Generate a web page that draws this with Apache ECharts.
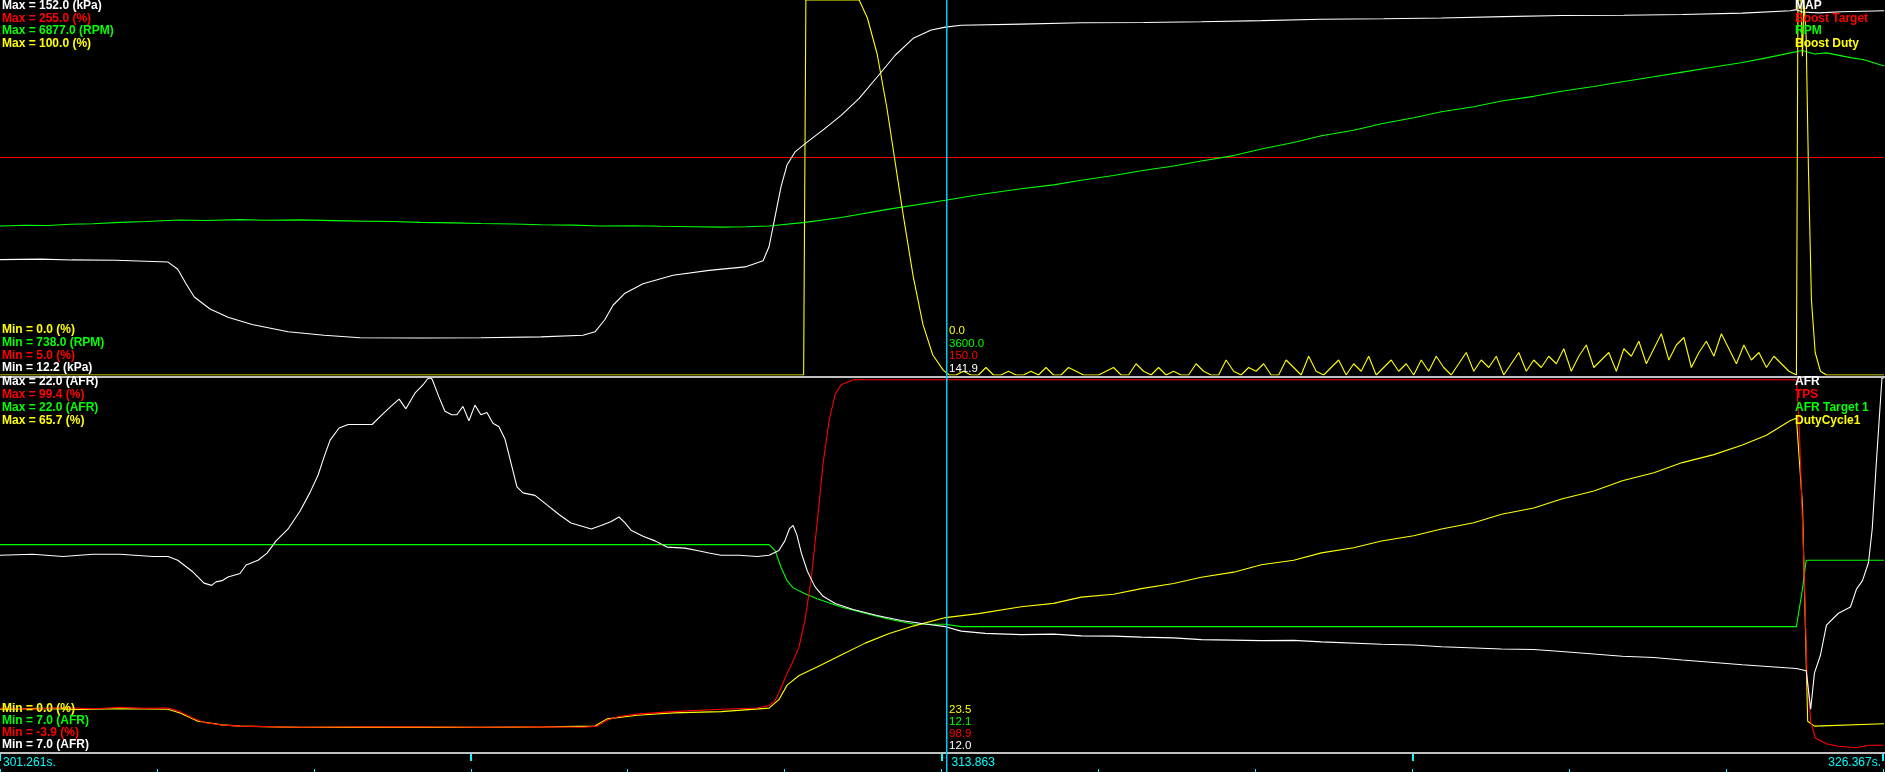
<!DOCTYPE html>
<html><head><meta charset="utf-8">
<script src="https://cdn.jsdelivr.net/npm/echarts@6/dist/echarts.min.js"></script>
<style>html,body{margin:0;padding:0;background:#000;}#c{width:1885px;height:772px;}</style>
</head><body><div id="c"></div>
<script>
// ---- time range & cursor ----
const T_MIN = 301.261, T_MAX = 326.367, CURSOR_T = 313.863;
const TIME_LABELS = ['301.261s.', '313.863', '326.367s.'];

// ---- top panel: axis ranges ----
const MAP_RANGE = [12.2, 152.0], BT_RANGE = [5.0, 255.0], RPM_RANGE = [738.0, 6877.0], BD_RANGE = [0.0, 100.0];
// ---- bottom panel: axis ranges ----
const AFR_RANGE = [7.0, 22.0], TPS_RANGE = [-3.9, 99.4], AFRT_RANGE = [7.0, 22.0], DC_RANGE = [0.0, 65.7];

const TOP_NAMES = ['MAP', 'Boost Target', 'RPM', 'Boost Duty'];
const TOP_MAX_TXT = ['Max = 152.0 (kPa)', 'Max = 255.0 (%)', 'Max = 6877.0 (RPM)', 'Max = 100.0 (%)'];
const TOP_MIN_TXT = ['Min = 0.0 (%)', 'Min = 738.0 (RPM)', 'Min = 5.0 (%)', 'Min = 12.2 (kPa)'];
const TOP_CUR_TXT = ['0.0', '3600.0', '150.0', '141.9'];
const BOT_NAMES = ['AFR', 'TPS', 'AFR Target 1', 'DutyCycle1'];
const BOT_MAX_TXT = ['Max = 22.0 (AFR)', 'Max = 99.4 (%)', 'Max = 22.0 (AFR)', 'Max = 65.7 (%)'];
const BOT_MIN_TXT = ['Min = 0.0 (%)', 'Min = 7.0 (AFR)', 'Min = -3.9 (%)', 'Min = 7.0 (AFR)'];
const BOT_CUR_TXT = ['23.5', '12.1', '98.9', '12.0'];

// ---- series data [time s, value] ----
const mapData = [[301.26,55.2],[301.80,55.4],[302.22,55.1],[302.80,55.0],[303.50,54.3],[303.63,51.6],[303.74,46.2],[303.85,41.3],[304.06,36.8],[304.30,33.7],[304.62,31.0],[305.10,28.3],[305.58,27.0],[306.06,26.1],[306.86,26.0],[307.67,26.1],[308.47,26.4],[309.03,27.0],[309.19,28.3],[309.32,32.8],[309.43,38.2],[309.59,42.7],[309.83,46.2],[310.23,49.4],[310.71,51.2],[311.19,52.5],[311.43,54.8],[311.51,60.1],[311.59,71.3],[311.67,82.5],[311.75,90.6],[311.86,95.5],[312.02,99.1],[312.23,103.6],[312.47,109.0],[312.71,115.3],[312.95,123.3],[313.19,131.4],[313.43,137.7],[313.67,140.8],[313.86,141.9],[314.07,142.6],[314.87,143.0],[315.67,143.5],[316.5,143.6],[317.27,143.9],[318.07,144.3],[318.87,144.8],[319.7,145.0],[320.47,145.3],[321.3,145.8],[322.07,146.2],[322.9,146.3],[323.68,146.6],[324.48,147.1],[325.12,148.0],[325.20,148.4],[325.28,147.5],[325.50,147.2],[325.80,147.6],[326.37,148.0]];
const boostTargetData = [[301.261,150],[326.367,150]];
const rpmData = [[301.26,3178],[301.60,3190],[301.90,3185],[302.20,3205],[302.50,3215],[302.86,3237],[303.20,3250],[303.66,3276],[304.00,3268],[304.46,3282],[304.80,3272],[305.26,3278],[305.70,3266],[306.06,3257],[306.50,3250],[306.86,3237],[307.30,3228],[307.67,3217],[308.10,3210],[308.47,3198],[308.90,3192],[309.27,3178],[309.70,3181],[310.07,3172],[310.50,3165],[310.87,3158],[311.20,3165],[311.51,3178],[311.99,3237],[312.47,3316],[313.11,3453],[313.86,3600],[314.30,3690],[314.87,3788],[315.30,3850],[315.67,3926],[316.10,4005],[316.47,4083],[316.90,4160],[317.27,4240],[317.70,4330],[318.07,4437],[318.50,4545],[318.87,4654],[319.30,4745],[319.67,4850],[320.10,4950],[320.47,5047],[320.90,5130],[321.27,5224],[321.70,5300],[322.07,5382],[322.50,5460],[322.88,5539],[323.30,5620],[323.68,5696],[324.10,5780],[324.48,5854],[324.80,5930],[325.12,6011],[325.28,6051],[325.44,5992],[325.60,6011],[325.92,5933],[326.10,5900],[326.37,5795]];
const boostDutyPeak = [[301.261,0],[311.97,0],[312.00,100],[312.71,100],[312.82,95.2],[312.95,85.6],[313.08,71.2],[313.19,56.7],[313.30,42.3],[313.43,26.3],[313.56,13.5],[313.69,5.4],[313.83,1.3],[313.91,0]];
const BD_NOISE_T0 = 314.0, BD_NOISE_DT = 0.1;
const boostDutyNoise = [0,1,0,0,2,0,0,1,0,0,
  1,0,2,0,0,2,1,0,0,0,
  1,2,0,0,3,1,0,2,0,1,
  0,0,3,1,0,0,4,1,0,2,
  1,3,0,0,4,2,0,5,1,0,
  2,4,0,3,1,5,0,2,4,1,
  3,0,4,1,5,2,0,3,6,1,
  4,2,5,0,3,6,1,4,2,5,
  3,7,1,5,8,2,4,6,1,7,
  5,9,3,7,11,4,8,10,2,6,
  9,5,11,7,3,8,4,6,2,5,
  3,1];
const boostDutyTail = [[325.20,0],[325.22,100],[325.26,100],[325.28,85],[325.30,100],[325.33,90],[325.36,55],[325.40,20],[325.45,6],[325.52,1],[325.60,0],[326.367,0]];

const afrData = [[301.26,14.87],[301.70,14.91],[302.10,14.82],[302.50,14.91],[302.86,14.91],[303.30,14.82],[303.50,14.82],[303.63,14.67],[303.82,14.23],[303.98,13.75],[304.08,13.66],[304.14,13.80],[304.22,13.85],[304.30,14.00],[304.46,14.14],[304.54,14.48],[304.70,14.67],[304.82,14.96],[304.94,15.45],[305.10,15.93],[305.26,16.65],[305.39,17.38],[305.50,18.10],[305.58,18.83],[305.66,19.50],[305.78,19.99],[305.90,20.13],[306.22,20.13],[306.35,20.52],[306.47,20.86],[306.58,21.15],[306.67,20.76],[306.79,21.39],[306.90,21.73],[306.96,21.97],[307.01,22.0],[307.03,21.87],[307.11,21.24],[307.19,20.66],[307.28,20.52],[307.35,20.52],[307.43,20.86],[307.51,20.28],[307.59,20.91],[307.67,20.52],[307.75,20.61],[307.83,20.18],[307.91,20.04],[307.99,19.55],[308.07,18.59],[308.15,17.62],[308.23,17.38],[308.39,17.28],[308.55,16.90],[308.71,16.51],[308.87,16.17],[309.03,16.03],[309.14,15.93],[309.27,16.07],[309.40,16.22],[309.51,16.41],[309.59,16.17],[309.67,15.88],[309.83,15.64],[309.99,15.45],[310.15,15.20],[310.39,15.16],[310.55,15.06],[310.71,14.96],[310.87,14.87],[311.11,14.87],[311.35,14.82],[311.51,14.87],[311.64,15.06],[311.72,15.45],[311.78,15.93],[311.83,16.07],[311.88,15.69],[311.94,14.96],[312.02,14.23],[312.12,13.61],[312.23,13.22],[312.39,12.93],[312.63,12.69],[312.95,12.45],[313.27,12.25],[313.59,12.11],[313.86,12.0],[314.07,11.82],[314.39,11.73],[314.87,11.68],[315.30,11.70],[315.67,11.63],[316.10,11.62],[316.47,11.58],[316.90,11.55],[317.27,11.48],[318.07,11.44],[318.50,11.45],[318.87,11.39],[319.67,11.29],[320.10,11.26],[320.47,11.19],[321.27,11.10],[321.70,11.08],[322.07,11.00],[322.88,10.81],[323.30,10.76],[323.68,10.66],[324.48,10.47],[325.20,10.32],[325.33,10.23],[325.39,8.68],[325.44,10.13],[325.52,10.85],[325.60,12.06],[325.76,12.54],[325.92,12.79],[326.00,13.51],[326.08,13.85],[326.16,14.57],[326.21,15.93],[326.27,18.83],[326.34,22.0],[326.367,22.0]];
const tpsData = [[301.26,8.0],[301.70,7.7],[302.10,8.1],[302.50,7.8],[302.86,8.2],[303.20,7.9],[303.50,8.0],[303.66,7.0],[303.82,5.3],[303.98,4.0],[304.22,3.3],[304.46,3.0],[305.26,2.66],[306.50,2.8],[307.67,2.66],[308.50,2.8],[309.05,2.66],[309.22,3.0],[309.35,4.6],[309.51,5.66],[309.75,6.3],[310.23,7.0],[310.87,7.65],[311.35,8.0],[311.51,8.7],[311.59,10.0],[311.67,13.6],[311.75,17.6],[311.83,21.0],[311.91,25.0],[311.99,32.6],[312.07,43.6],[312.15,59.3],[312.23,75.9],[312.31,87.6],[312.39,94.9],[312.47,97.5],[312.63,98.9],[313.86,98.9],[325.20,98.9],[325.24,84.3],[325.30,47.7],[325.34,17.6],[325.39,4.3],[325.45,-0.3],[325.60,-1.9],[325.76,-2.6],[326.00,-3.0],[326.16,-2.3],[326.367,-2.3]];
const afrTargetData = [[301.261,15.3],[311.51,15.3],[311.59,15.06],[311.67,14.38],[311.75,13.85],[311.83,13.56],[311.99,13.32],[312.15,13.12],[312.47,12.79],[312.79,12.54],[313.11,12.30],[313.43,12.11],[313.86,12.1],[314.07,12.0],[325.20,12.0],[325.28,13.5],[325.33,14.67],[326.367,14.67]];
const dutyCycleData = [[301.26,7.35],[301.80,7.5],[302.30,7.3],[302.86,7.45],[303.50,7.35],[303.66,6.71],[303.90,5.24],[304.22,4.6],[304.46,4.39],[305.26,4.17],[306.50,4.2],[307.67,4.17],[308.50,4.25],[309.19,4.39],[309.35,5.66],[309.75,6.29],[310.23,6.71],[310.87,6.93],[311.51,7.56],[311.64,9.04],[311.75,11.6],[311.91,13.3],[312.15,14.8],[312.47,16.9],[312.79,19.0],[313.11,20.7],[313.43,22.0],[313.86,23.5],[314.30,24.2],[314.87,25.4],[315.30,26.0],[315.67,27.1],[316.10,27.6],[316.47,28.6],[316.90,29.5],[317.27,30.6],[317.70,31.5],[318.07,32.8],[318.50,33.6],[318.87,34.9],[319.30,35.8],[319.67,37.0],[320.10,37.9],[320.47,39.1],[320.90,40.2],[321.27,41.7],[321.70,42.8],[322.07,44.4],[322.50,45.8],[322.88,47.6],[323.30,49.0],[323.68,50.8],[324.10,52.2],[324.48,53.9],[324.80,55.6],[325.12,58.2],[325.20,58.6],[325.28,43.4],[325.35,5.24],[325.44,4.39],[326.367,4.81]];

// ---- colours ----
const C_WHITE = '#ffffff', C_RED = '#ff0000', C_GREEN = '#00ff00', C_YELLOW = '#ffff00', C_CYAN = '#00ffff', C_CURSOR = '#00c8f8', C_SEP = '#c0c0c0';

// build boost duty series from its pieces
const boostDutyData = boostDutyPeak.concat(boostDutyNoise.map((v, i) => [+(BD_NOISE_T0 + i * BD_NOISE_DT).toFixed(2), v]), boostDutyTail);

const chart = echarts.init(document.getElementById('c'), null, {renderer: 'canvas'});
const W = 1885, TOP_H = 375, BOT_TOP = 378, BOT_H = 373;

function yAx(grid, r) { return {type: 'value', gridIndex: grid, min: r[0], max: r[1], show: false, scale: true}; }
function xAx(grid) { return {type: 'value', gridIndex: grid, min: T_MIN, max: T_MAX, show: false}; }
function ser(name, data, xi, yi, color, z) {
  return {type: 'line', name, data, xAxisIndex: xi, yAxisIndex: yi, symbol: 'none', showSymbol: false,
    lineStyle: {color, width: 1.1}, itemStyle: {color}, silent: true, animation: false, z: z || 2, clip: true};
}
const span = T_MAX - T_MIN;

const option = {
  backgroundColor: '#000',
  animation: false,
  grid: [
    {left: 0, right: 1, top: 0, height: TOP_H},
    {left: 0, right: 1, top: BOT_TOP, height: BOT_H},
    {left: 0, right: 2, top: 754, height: 18}
  ],
  xAxis: [
    xAx(0), xAx(1),
    {type: 'value', gridIndex: 2, min: T_MIN, max: T_MAX, interval: span / 12,
      axisLine: {show: false}, axisLabel: {show: false}, splitLine: {show: false},
      axisTick: {show: true, inside: true, length: 3, lineStyle: {color: C_CYAN, width: 1}}},
    {type: 'value', gridIndex: 2, min: T_MIN, max: T_MAX, interval: span / 4,
      axisLine: {show: false}, axisLabel: {show: false}, splitLine: {show: false},
      axisTick: {show: true, inside: true, length: 7, lineStyle: {color: C_CYAN, width: 2}}}
  ],
  yAxis: [
    yAx(0, MAP_RANGE), yAx(0, BT_RANGE), yAx(0, RPM_RANGE), yAx(0, BD_RANGE),
    yAx(1, AFR_RANGE), yAx(1, TPS_RANGE), yAx(1, AFRT_RANGE), yAx(1, DC_RANGE),
    {type: 'value', gridIndex: 2, show: false, min: 0, max: 1}
  ],
  series: [
    ser('Boost Target', boostTargetData, 0, 1, C_RED, 2),
    ser('RPM', rpmData, 0, 2, C_GREEN, 3),
    ser('Boost Duty', boostDutyData, 0, 3, C_YELLOW, 4),
    ser('MAP', mapData, 0, 0, C_WHITE, 5),
    ser('AFR Target 1', afrTargetData, 1, 6, C_GREEN, 2),
    ser('DutyCycle1', dutyCycleData, 1, 7, C_YELLOW, 3),
    ser('TPS', tpsData, 1, 5, C_RED, 4),
    ser('AFR', afrData, 1, 4, C_WHITE, 5)
  ]
};
chart.setOption(option);

// ---- overlay graphics: separators, cursor, labels ----
const BOLD = 'bold 12px "Liberation Sans", Arial, sans-serif';
const REG = '11.5px "Liberation Sans", Arial, sans-serif';
const TIMEF = '12px "Liberation Sans", Arial, sans-serif';
const TOP_COLS = [C_WHITE, C_RED, C_GREEN, C_YELLOW];
const TOP_MIN_COLS = [C_YELLOW, C_GREEN, C_RED, C_WHITE];
const BOT_COLS = [C_WHITE, C_RED, C_GREEN, C_YELLOW];
const BOT_MIN_COLS = [C_YELLOW, C_GREEN, C_RED, C_WHITE];

const cxi = Math.round(chart.convertToPixel({xAxisIndex: 0}, CURSOR_T));
const cx = cxi + 0.5;
const g = [];
g.push({type: 'rect', shape: {x: 0, y: 376, width: W, height: 2}, style: {fill: C_SEP}, z: 50, silent: true});
g.push({type: 'rect', shape: {x: 0, y: 752, width: W, height: 2}, style: {fill: C_SEP}, z: 50, silent: true});
g.push({type: 'rect', shape: {x: cxi, y: 0, width: 1.5, height: 772}, style: {fill: C_CURSOR}, z: 60, silent: true});

function txt(x, y, s, color, font, align) {
  g.push({type: 'text', x, y, z: 70, silent: true,
    style: {text: s, fill: color, font, textAlign: align || 'left', textVerticalAlign: 'top'}});
}
const TOP_MAX_Y = [0, 12.5, 25, 37.5];
const TOP_MIN_Y = [324, 337, 349.5, 362];
const BOT_MAX_Y = [376, 389, 402, 414.5];
const BOT_MIN_Y = [703, 715, 727, 739];
for (let i = 0; i < 4; i++) {
  txt(2, TOP_MAX_Y[i], TOP_MAX_TXT[i], TOP_COLS[i], BOLD);
  txt(1795, TOP_MAX_Y[i], TOP_NAMES[i], TOP_COLS[i], BOLD);
  txt(2, TOP_MIN_Y[i], TOP_MIN_TXT[i], TOP_MIN_COLS[i], BOLD);
  txt(cx + 2.5, TOP_MIN_Y[i] + 0.5, TOP_CUR_TXT[i], TOP_MIN_COLS[i], REG);
  txt(2, BOT_MAX_Y[i], BOT_MAX_TXT[i], BOT_COLS[i], BOLD);
  txt(1795, BOT_MAX_Y[i], BOT_NAMES[i], BOT_COLS[i], BOLD);
  txt(2, BOT_MIN_Y[i], BOT_MIN_TXT[i], BOT_MIN_COLS[i], BOLD);
  txt(cx + 2.5, BOT_MIN_Y[i] + 0.5, BOT_CUR_TXT[i], BOT_MIN_COLS[i], REG);
}
txt(3, 757, TIME_LABELS[0], C_CYAN, TIMEF);
txt(cx + 5, 757, TIME_LABELS[1], C_CYAN, TIMEF);
txt(1881, 757, TIME_LABELS[2], C_CYAN, TIMEF, 'right');
chart.setOption({graphic: {elements: g}});
</script>
</body></html>
